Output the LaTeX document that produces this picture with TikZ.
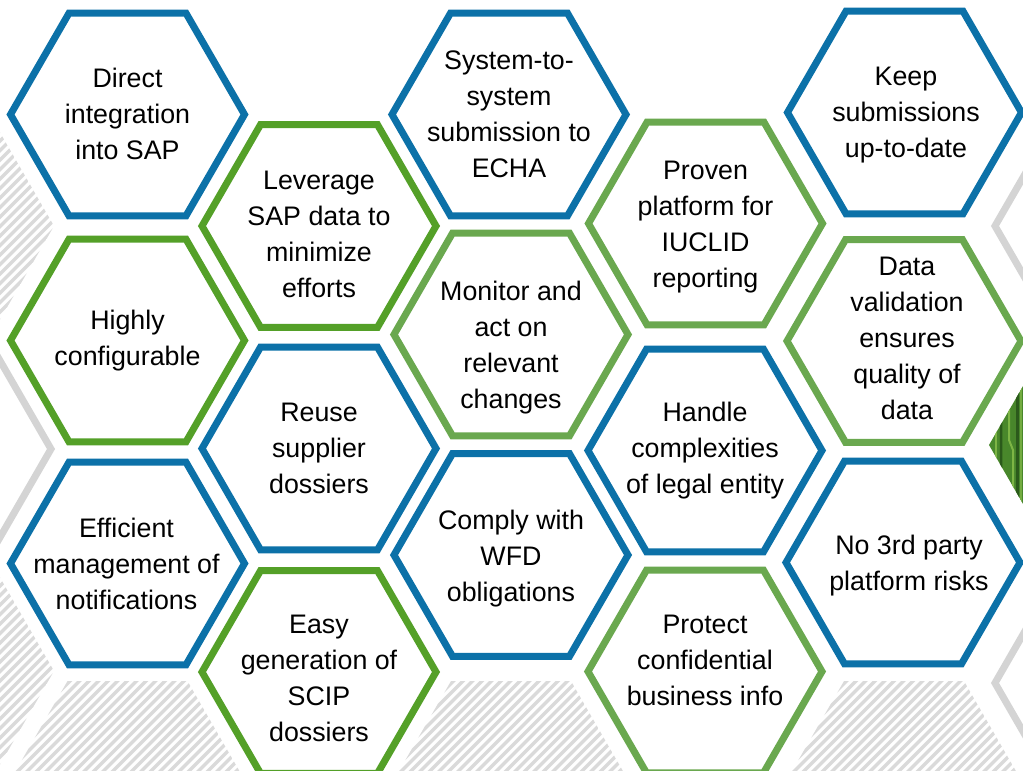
\documentclass[tikz,border=0pt]{standalone}
\usepackage{fontspec}
\setmainfont{Liberation Sans}
\usetikzlibrary{calc}
\definecolor{hexblue}{HTML}{0C71A8}
\definecolor{hexdkgreen}{HTML}{54A028}
\definecolor{hexltgreen}{HTML}{6AA84F}
\definecolor{hexgrey}{HTML}{D4D4D4}
\definecolor{hatchgrey}{HTML}{DADADA}
\definecolor{chipgreen}{HTML}{4A8A2C}
\definecolor{chipdark}{HTML}{2B5A1B}
\definecolor{chiplight}{HTML}{7DB545}
\tikzset{
  hexline/.style={line width=7pt, line join=miter},
  bluehex/.style={hexline, draw=hexblue},
  dkhex/.style={hexline, draw=hexdkgreen},
  lthex/.style={hexline, draw=hexltgreen},
  greyhex/.style={hexline, draw=hexgrey},
  hatchline/.style={draw=hatchgrey, line width=3.4pt},
  hexlabel/.style={align=center, inner sep=0pt, text=black,
    font=\fontsize{26.8}{36}\selectfont, yshift=-4pt,
    execute at begin node=\strut, execute at end node=\strut},
}
\newcommand\hexoutline[4]{\draw[#1] (#2,#3) ++(0:#4) -- ++(120:#4) -- ++(180:#4) -- ++(240:#4) -- ++(300:#4) -- ++(0:#4) -- cycle;}
\newcommand\hatchhex[2]{%
  \begin{scope}
    \clip (#1,#2) ++(0:120) -- ++(120:120) -- ++(180:120) -- ++(240:120) -- ++(300:120) -- ++(0:120) -- cycle;
    \foreach \k in {-22,...,22}
      \draw[hatchline] ($(#1,#2)+(\k*9.5,0)+(-300,300)$) -- ++(600,-600);
  \end{scope}}
\begin{document}
\begin{tikzpicture}[x=1pt,y=-1pt]
\useasboundingbox (0,0) rectangle (1023,771);
\fill[white] (0,0) rectangle (1023,771);
\clip (0,0) rectangle (1023,771);

% background decoration
\hatchhex{-66}{226}
\hatchhex{-66}{671}
\hatchhex{127.5}{785}
\hatchhex{511}{785}
\hatchhex{904}{785}
\hexoutline{greyhex}{-66}{449}{117}
\hexoutline{greyhex}{1112}{226}{117}
\hexoutline{greyhex}{1112}{683}{117}
\begin{scope}
  \clip (1109,445) ++(0:120) -- ++(120:120) -- ++(180:120) -- ++(240:120) -- ++(300:120) -- ++(0:120) -- cycle;
  \shade[left color=chipgreen, right color=chipgreen!80!black] (980,330) rectangle (1240,560);
  \draw[chiplight, line width=1.5pt] (996,380) -- (996,520);
  \draw[chipdark, line width=2.5pt] (1001,370) -- (1001,470) -- (1006,480) -- (1006,530);
  \draw[chiplight, line width=2pt] (1009,360) -- (1009,440) -- (1013,450) -- (1013,540);
  \draw[chipdark, line width=3pt] (1017,350) -- (1017,540);
  \draw[chiplight!80!chipgreen, line width=1.5pt] (1021,350) -- (1021,540);
\end{scope}

% column 1
\hexoutline{bluehex}{127.5}{114.5}{117}
\node[hexlabel] (direct) at (127.5,115.5) {Direct\\integration\\into SAP};
\hexoutline{dkhex}{127.5}{340.5}{117}
\node[hexlabel] (highly) at (127.5,339.5) {Highly\\configurable};
\hexoutline{bluehex}{127.5}{563.5}{117}
\node[hexlabel] (efficient) at (126.5,565) {Efficient\\management of\\notifications};

% column 2
\hexoutline{dkhex}{319}{226}{117}
\node[hexlabel] (leverage) at (319,236) {Leverage\\SAP data to\\minimize\\efforts};
\hexoutline{bluehex}{319}{448.5}{117}
\node[hexlabel] (reuse) at (319,449.5) {Reuse\\supplier\\dossiers};
\hexoutline{dkhex}{319}{672}{117}
\node[hexlabel] (easy) at (319,679.5) {Easy\\generation of\\SCIP\\dossiers};

% column 3
\hexoutline{bluehex}{509}{114.5}{117}
\node[hexlabel] (system) at (509,115.5) {System-to-\\system\\submission to\\ECHA};
\hexoutline{lthex}{511}{334.5}{117}
\node[hexlabel] (monitor) at (511,346) {Monitor and\\act on\\relevant\\changes};
\hexoutline{bluehex}{511}{555}{117}
\node[hexlabel] (comply) at (511,557) {Comply with\\WFD\\obligations};

% column 4
\hexoutline{lthex}{705.5}{223.5}{117}
\node[hexlabel] (proven) at (705.5,226) {Proven\\platform for\\IUCLID\\reporting};
\hexoutline{bluehex}{705}{450.5}{117}
\node[hexlabel] (handle) at (705,449) {Handle\\complexities\\of legal entity};
\hexoutline{lthex}{705}{671.5}{117}
\node[hexlabel] (protect) at (705,662) {Protect\\confidential\\business info};

% column 5
\hexoutline{bluehex}{904.5}{112.5}{117}
\node[hexlabel] (keep) at (906,114) {Keep\\submissions\\up-to-date};
\hexoutline{lthex}{904}{341}{117}
\node[hexlabel] (data) at (907,340) {Data\\validation\\ensures\\quality of\\data};
\hexoutline{bluehex}{903}{562.5}{117}
\node[hexlabel] (nothird) at (909,564.5) {No 3rd party\\platform risks};
\end{tikzpicture}
\end{document}
